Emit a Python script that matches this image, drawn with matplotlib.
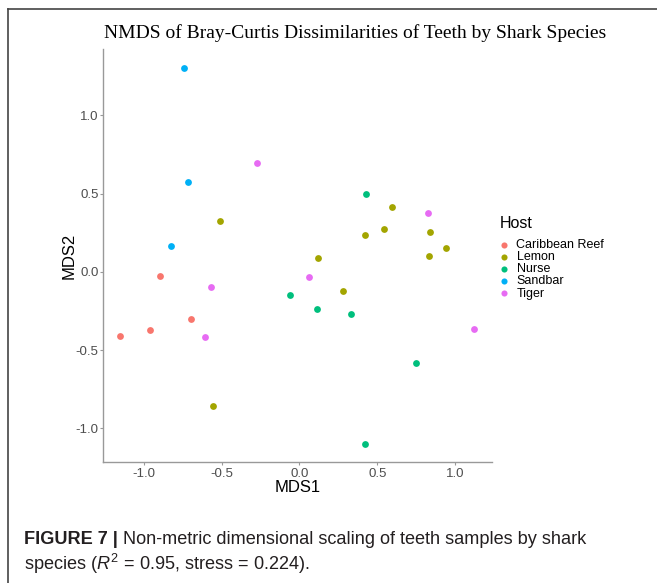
import matplotlib
matplotlib.use("Agg")
import matplotlib.pyplot as plt
from matplotlib.lines import Line2D

plt.rcParams['font.family'] = ['Liberation Sans', 'DejaVu Sans']
plt.rcParams['mathtext.fontset'] = 'custom'
plt.rcParams['mathtext.rm'] = 'Liberation Sans'
plt.rcParams['mathtext.it'] = 'Liberation Sans:italic'

# NMDS scores
hosts = ["Caribbean Reef", "Lemon", "Nurse", "Sandbar", "Tiger"]
colors = ["#F8766D", "#A3A500", "#00BF7D", "#00B0F6", "#E76BF3"]

reef_x = [-0.893, -0.699, -0.962, -1.150]
reef_y = [-0.025, -0.300, -0.374, -0.408]
lemon_x = [-0.508, -0.557, 0.594, 0.542, 0.423, 0.840, 0.940, 0.833, 0.117, 0.277]
lemon_y = [0.323, -0.860, 0.414, 0.274, 0.237, 0.252, 0.154, 0.099, 0.088, -0.121]
nurse_x = [-0.061, 0.429, 0.112, 0.331, 0.750, 0.418]
nurse_y = [-0.148, 0.499, -0.238, -0.272, -0.581, -1.101]
sandbar_x = [-0.741, -0.716, -0.827]
sandbar_y = [1.303, 0.572, 0.163]
tiger_x = [-0.275, -0.568, 0.063, -0.605, 0.827, 1.120]
tiger_y = [0.696, -0.099, -0.035, -0.415, 0.376, -0.364]

xs = [reef_x, lemon_x, nurse_x, sandbar_x, tiger_x]
ys = [reef_y, lemon_y, nurse_y, sandbar_y, tiger_y]

W, H = 657, 583
fig = plt.figure(figsize=(6.57, 5.83), dpi=100)
ax = fig.add_axes([0.1563, 0.2075, 0.5926, 0.7085])

for x, y, c, h in zip(xs, ys, colors, hosts):
    ax.scatter(x, y, s=24, color=c, label=h, linewidths=0, zorder=3)

ax.set_xlim(-1.263, 1.236)
ax.set_ylim(-1.216, 1.425)
ax.set_xticks([-1.0, -0.5, 0.0, 0.5, 1.0])
ax.set_yticks([-1.0, -0.5, 0.0, 0.5, 1.0])
ax.set_xticklabels(["-1.0", "-0.5", "0.0", "0.5", "1.0"])
ax.set_yticklabels(["-1.0", "-0.5", "0.0", "0.5", "1.0"])
for s in ["top", "right"]:
    ax.spines[s].set_visible(False)
for s in ["left", "bottom"]:
    ax.spines[s].set_color("#999999")
    ax.spines[s].set_linewidth(1.0)
ax.tick_params(colors="#999999", labelcolor="#4d4d4d", labelsize=9.5, length=2.5, width=0.8, pad=1.5)
ax.tick_params(axis="y", pad=0.5)
ax.set_xlabel("MDS1", fontsize=12, labelpad=0)
ax.set_ylabel("MDS2", fontsize=12, labelpad=-1)

fig.text(0.541, 1 - 33 / H, "NMDS of Bray-Curtis Dissimilarities of Teeth by Shark Species",
         family="Liberation Serif", fontsize=14, ha="center", va="center")

# legend: title as separate text, keys below it
fig.text(500 / W, 1 - 223 / H, "Host", fontsize=11.5, ha="left", va="center")
ax.legend(loc="upper left", bbox_to_anchor=(499 / W, 1 - 239.5 / H), bbox_transform=fig.transFigure,
          frameon=False, fontsize=9, handlelength=0.8, handletextpad=0.6,
          labelspacing=0.0, borderpad=0, borderaxespad=0, markerscale=0.9)

# frame around the figure panel
fig.add_artist(Line2D([8 / W, 1.0], [1 - 9 / H, 1 - 9 / H], color="#444444", lw=1.2))
fig.add_artist(Line2D([8 / W, 8 / W], [0.0, 1 - 9 / H], color="#444444", lw=1.2))

cap_font = ['Liberation Sans Narrow', 'Liberation Sans']
cap_size = 13.1
t1 = fig.text(24 / W, 1 - 544 / H, "FIGURE 7 |", family=cap_font, fontweight="bold",
              fontsize=cap_size, color="#231f20", va="baseline")
ax.annotate(" Non-metric dimensional scaling of teeth samples by shark", xy=(1, 0), xycoords=t1,
            family=cap_font, fontsize=cap_size, color="#231f20", va="bottom", ha="left",
            annotation_clip=False)
fig.text(24 / W, 1 - 570 / H, "species ($R^2$ = 0.95, stress = 0.224).", family=cap_font,
         fontsize=cap_size, color="#231f20", va="baseline")

fig.savefig("out.png", dpi=100)
